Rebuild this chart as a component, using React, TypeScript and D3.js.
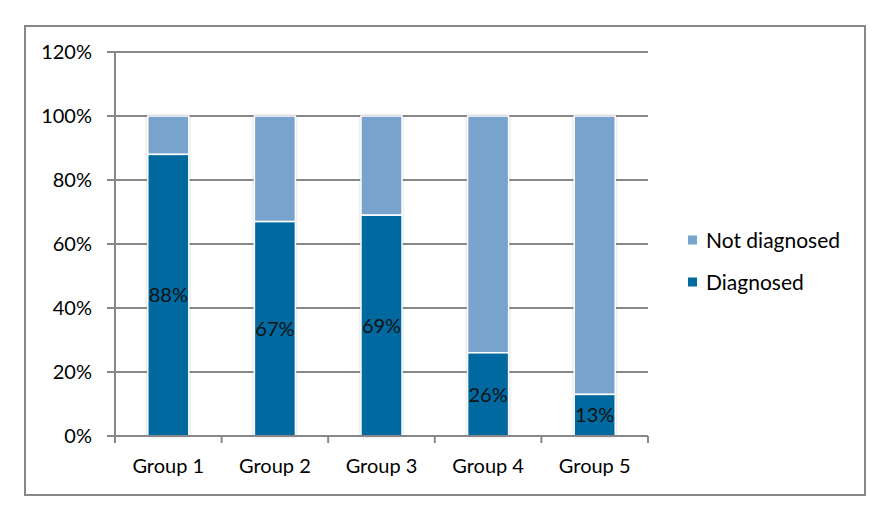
import React from 'react';
import * as d3 from 'd3';

const groups = ['Group 1', 'Group 2', 'Group 3', 'Group 4', 'Group 5'];
const diagnosed = [88, 67, 69, 26, 13];
const notDiagnosed = [12, 33, 31, 74, 87];
const yTicks = [0, 20, 40, 60, 80, 100, 120];
const seriesNames = ['Not diagnosed', 'Diagnosed'];
const seriesColors = ['#78a3cd', '#006aa0'];

const W = 890;
const H = 520;
const margin = { top: 52, left: 115, right: 242, bottom: 84 };
const FONT = 'Lato, "Open Sans", sans-serif';

const App: React.FC = () => {
	const x = d3
		.scaleBand<string>()
		.domain(groups)
		.range([margin.left, W - margin.right])
		.paddingInner(0.615)
		.paddingOuter(0.3075);

	const y = d3
		.scaleLinear()
		.domain([0, 120])
		.range([H - margin.bottom, margin.top]);

	const step = x.step();
	const x0 = margin.left;
	const x1 = W - margin.right;

	return (
		<svg
			width={W}
			height={H}
			style={{ position: 'absolute', left: 0, top: 0, background: '#fff' }}>
			<defs>
				<filter id='shadow' x='-30%' y='-10%' width='160%' height='120%'>
					<feDropShadow
						dx='0'
						dy='0'
						stdDeviation='1.8'
						floodColor='#666'
						floodOpacity='0.6'
					/>
				</filter>
			</defs>
			{/* outer frame */}
			<rect
				x={25}
				y={26}
				width={840}
				height={469}
				fill='#fff'
				stroke='#878787'
				strokeWidth={2}
			/>

			{/* gridlines + y ticks */}
			{yTicks.map((t) => (
				<g key={t}>
					<line
						x1={x0 - 8}
						x2={x1}
						y1={y(t)}
						y2={y(t)}
						stroke='#878787'
						strokeWidth={2}
					/>
					<text
						x={92}
						y={y(t)}
						dy='0.36em'
						textAnchor='end'
						fontFamily={FONT}
						fontSize={20}
						fill='#000'>
						{t}%
					</text>
				</g>
			))}

			{/* y axis */}
			<line
				x1={x0}
				x2={x0}
				y1={y(120)}
				y2={y(0)}
				stroke='#878787'
				strokeWidth={2}
			/>
			{/* x axis ticks */}
			{d3.range(groups.length + 1).map((i) => (
				<line
					key={i}
					x1={x0 + i * step}
					x2={x0 + i * step}
					y1={y(0)}
					y2={y(0) + 7}
					stroke='#878787'
					strokeWidth={2}
				/>
			))}

			{/* bars */}
			{groups.map((g, i) => {
				const bx = x(g) ?? 0;
				const bw = x.bandwidth();
				return (
					<g key={g}>
						<rect
							x={bx}
							y={y(100)}
							width={bw}
							height={y(0) - y(100)}
							fill='#fff'
							filter='url(#shadow)'
						/>
						<rect
							x={bx}
							y={y(diagnosed[i] + notDiagnosed[i])}
							width={bw}
							height={y(diagnosed[i]) - y(diagnosed[i] + notDiagnosed[i])}
							fill={seriesColors[0]}
							stroke='#fff'
							strokeWidth={1.5}
						/>
						<rect
							x={bx}
							y={y(diagnosed[i])}
							width={bw}
							height={y(0) - y(diagnosed[i])}
							fill={seriesColors[1]}
							stroke='#fff'
							strokeWidth={1.5}
						/>
						<text
							x={bx + bw / 2}
							y={(y(diagnosed[i]) + y(0)) / 2}
							dy='0.36em'
							textAnchor='middle'
							fontFamily={FONT}
							fontSize={20}
							fill='#111'>
							{diagnosed[i]}%
						</text>
						<text
							x={bx + bw / 2}
							y={466}
							dy='0.36em'
							textAnchor='middle'
							fontFamily={FONT}
							fontSize={20}
							fill='#000'>
							{g}
						</text>
					</g>
				);
			})}

			{/* x axis line */}
			<line
				x1={x0 - 8}
				x2={x1}
				y1={y(0)}
				y2={y(0)}
				stroke='#878787'
				strokeWidth={2}
			/>

			{/* legend */}
			{seriesNames.map((s, i) => (
				<g key={s} transform={`translate(688, ${240 + i * 42})`}>
					<rect x={0} y={-4.5} width={9} height={9} fill={seriesColors[i]} />
					<text
						x={18}
						y={0}
						dy='0.36em'
						fontFamily={FONT}
						fontSize={21}
						fill='#000'>
						{s}
					</text>
				</g>
			))}
		</svg>
	);
};

export default App;
